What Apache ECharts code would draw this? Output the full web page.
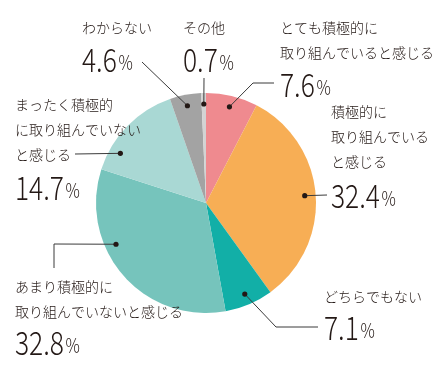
<!DOCTYPE html>
<html><head><meta charset="utf-8">
<script src="https://cdn.jsdelivr.net/npm/echarts@6/dist/echarts.min.js"></script>
<style>html,body{margin:0;padding:0;background:#fff}#c{width:442px;height:384px}</style>
</head><body><div id="c"></div>
<script>
const categories = ['とても積極的に取り組んでいると感じる','積極的に取り組んでいると感じる','どちらでもない','あまり積極的に取り組んでいないと感じる','まったく積極的に取り組んでいないと感じる','わからない','その他'];
const values = [7.6, 32.4, 7.1, 32.8, 14.7, 4.6, 0.7];
const labelTexts = [
  ['とても積極的に','取り組んでいると感じる'],
  ['積極的に','取り組んでいる','と感じる'],
  ['どちらでもない'],
  ['あまり積極的に','取り組んでいないと感じる'],
  ['まったく積極的','に取り組んでいない','と感じる'],
  ['わからない'],
  ['その他']
];
const colors = ['#EF8A8F','#F7AE55','#12AFA7','#76C4BC','#A9D8D4','#A3A3A3','#D3D3D3'];

// layout (annotation positions); frac = where in the slice the leader dot sits
const cx = 206, cy = 203, R = 110;
const layout = [
  {x:280, y0:28, num:84, frac:0.5, pts:[[253,83],[274,83]]},
  {x:331, y0:112, num:195, frac:0.5, pts:[[327,195]]},
  {x:324, y0:297, num:327, frac:0.5, pts:[[276,327],[318,327]]},
  {x:15, y0:287, num:342, frac:0.64, pts:[[54,244],[54,268]]},
  {x:15, y0:105, num:187, frac:0.23, pts:[[75,154]]},
  {x:82, y0:28, num:59, frac:0.5, pts:[[142,62]]},
  {x:183, y0:28, num:59, frac:0.5, pts:[[204,78]]}
];
const font = '"Noto Sans CJK JP", "Noto Sans", sans-serif';
const txtColor = '#231815';
const graphics = [];
const total = values.reduce((a,b)=>a+b,0);
let cum = 0;
values.forEach((v,i)=>{
  const L = layout[i];
  const ang = (cum + v*L.frac)/total * Math.PI*2;
  cum += v;
  const dx = cx + 0.9*R*Math.sin(ang), dy = cy - 0.9*R*Math.cos(ang);
  graphics.push({type:'polyline', z:10, shape:{points:[[dx,dy]].concat(L.pts)}, style:{stroke:'#3a3a3a', lineWidth:1, fill:null}});
  graphics.push({type:'circle', z:11, shape:{cx:dx, cy:dy, r:2.6}, style:{fill:'#231815'}});
  labelTexts[i].forEach((t,k)=>{
    graphics.push({type:'text', z:10, x:L.x, y:L.y0 + k*25, style:{text:t, font:'300 14px '+font, fill:txtColor, verticalAlign:'middle', align:'left'}});
  });
  graphics.push({type:'text', z:10, x:L.x, y:L.num, scaleX:0.8, style:{
    text:'{n|'+v.toFixed(1)+'}{p|%}', verticalAlign:'middle', align:'left',
    rich:{n:{fontSize:33, fontWeight:300, fontFamily:font, fill:txtColor, color:txtColor, verticalAlign:'bottom'}, p:{fontSize:20, fontWeight:300, fontFamily:font, color:txtColor, fill:txtColor, verticalAlign:'bottom', padding:[0,0,3,2]}}
  }});
});

const chart = echarts.init(document.getElementById('c'));
chart.setOption({
  animation:false,
  color: colors,
  series:[{
    type:'pie', center:[cx,cy], radius:[0,R], startAngle:90, clockwise:true,
    label:{show:false}, labelLine:{show:false}, silent:true,
    data: categories.map((c,i)=>({name:c, value:values[i]}))
  }],
  graphic: graphics
});
</script></body></html>
